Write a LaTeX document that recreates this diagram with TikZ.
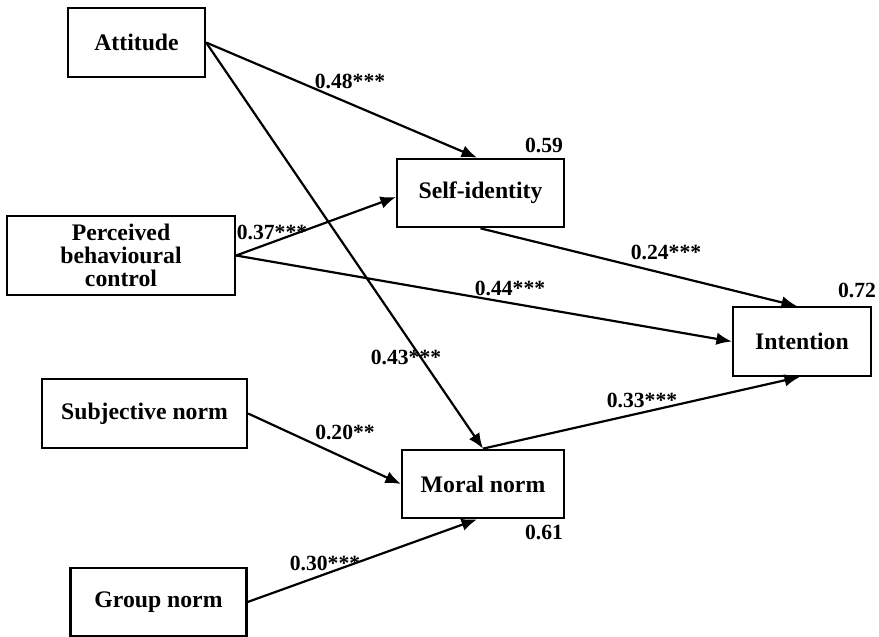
\documentclass[tikz,border=0pt]{standalone}
\usepackage{fontspec}
\setmainfont{Liberation Serif}
\usetikzlibrary{positioning,arrows.meta}

\begin{document}
\begin{tikzpicture}[line width=1.25pt,
    box/.style={draw, rectangle, inner sep=0, minimum height=1.37cm,
        align=center, font=\fontsize{13.5}{13.3}\selectfont\bfseries},
    coef/.style={inner sep=0, font=\fontsize{12.3}{14}\selectfont\bfseries},
    arr/.style={-{Latex[length=3.1mm,width=2.5mm]}}]

\useasboundingbox (0,0) rectangle (17.58,-12.74);

% Predictors
\node[box,
    minimum width=2.74cm] (attitude) at (2.73,-0.85) {Attitude};

\node[box,
    minimum width=4.56cm,
    minimum height=1.58cm] (pbc) at (2.42,-5.11) {Perceived\\ behavioural\\ control};

\node[box,
    minimum width=4.10cm] (subnorm) at (2.89,-8.27) {Subjective norm};

\node[box,
    minimum width=3.52cm] (groupnorm) at (3.17,-12.04) {Group norm};

% Mediators
\node[box,
    minimum width=3.34cm] (selfid) at (9.61,-3.86) {Self-identity};

\node[box,
    minimum width=3.24cm] (moralnorm) at (9.66,-9.68) {Moral norm};

% Outcome
\node[box,
    minimum width=2.76cm] (intention) at (16.04,-6.83) {Intention};

% Explained variance
\node[coef, anchor=east] (r2self) at (11.28,-2.90) {0.59};
\node[coef, anchor=east] (r2moral) at (11.28,-10.64) {0.61};
\node[coef, anchor=east] (r2int) at (17.54,-5.80) {0.72};

% Paths
\draw[arr] (attitude.east) -- ([xshift=-0.07cm]selfid.north);
\draw[arr] (attitude.east) -- (moralnorm.north);
\draw[arr] (pbc.east) -- ([yshift=-0.08cm]selfid.west);
\draw[arr] (pbc.east) -- (intention.west);
\draw[arr] (selfid.south) -- ([xshift=-0.1cm]intention.north);
\draw[arr] (moralnorm.north) -- ([xshift=-0.04cm]intention.south);
\draw[arr] (subnorm.east) -- (moralnorm.west);
\draw[arr] (groupnorm.east) -- ([xshift=-0.12cm]moralnorm.south);

% Path coefficients
\node[coef] (c1) at (7.00,-1.62) {0.48***};
\node[coef] (c2) at (5.44,-4.64) {0.37***};
\node[coef] (c3) at (13.32,-5.04) {0.24***};
\node[coef] (c4) at (10.20,-5.76) {0.44***};
\node[coef] (c5) at (8.12,-7.14) {0.43***};
\node[coef] (c6) at (12.84,-8.00) {0.33***};
\node[coef] (c7) at (6.90,-8.64) {0.20**};
\node[coef] (c8) at (6.50,-11.26) {0.30***};

\end{tikzpicture}
\end{document}
